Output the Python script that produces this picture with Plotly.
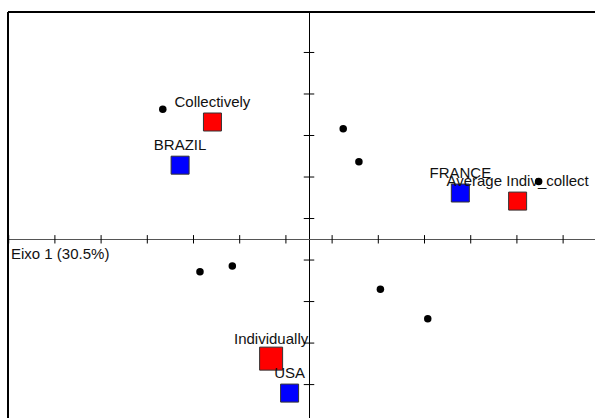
import plotly.graph_objects as go

# Row categories (red) and column categories (blue)
row_labels = ["Collectively", "Average Indiv_collect", "Individually"]
row_x = [-0.418, 0.903, -0.164]
row_y = [0.565, 0.184, -0.575]
row_size = [18, 18, 23]

col_labels = ["BRAZIL", "FRANCE", "USA"]
col_x = [-0.558, 0.655, -0.084]
col_y = [0.357, 0.223, -0.741]
col_size = [18, 18, 18]

# Supplementary points (black dots)
dot_x = [-0.633, 0.148, 0.216, 0.994, -0.472, -0.332, 0.309, 0.514]
dot_y = [0.627, 0.532, 0.373, 0.278, -0.156, -0.129, -0.241, -0.383]

# Tick positions along the axes
x_ticks = [-1.3, -1.1, -0.9, -0.7, -0.5, -0.3, -0.1, 0.1, 0.3, 0.5, 0.7, 0.9, 1.1]
y_ticks = [0.9, 0.7, 0.5, 0.3, 0.1, -0.1, -0.3, -0.5, -0.7]

axis_label = "Eixo 1 (30.5%)"

x_range = [-1.303, 1.238]
y_range = [-0.861, 1.095]

FONT = "Liberation Sans, Arial, sans-serif"

fig = go.Figure()

fig.add_trace(go.Scatter(
    x=row_x, y=row_y, mode="markers",
    marker=dict(symbol="square", size=row_size, color="#ff0000", opacity=1,
                line=dict(color="#333333", width=1)),
    hoverinfo="skip", showlegend=False))

fig.add_trace(go.Scatter(
    x=col_x, y=col_y, mode="markers",
    marker=dict(symbol="square", size=col_size, color="#0000ff", opacity=1,
                line=dict(color="#333333", width=1)),
    hoverinfo="skip", showlegend=False))

# labels (invisible marker to set the offset)
fig.add_trace(go.Scatter(
    x=row_x + col_x, y=row_y + col_y, mode="markers+text",
    text=row_labels + col_labels, textposition="top center",
    textfont=dict(family=FONT, size=15, color="#111111"),
    marker=dict(size=16, color="rgba(0,0,0,0)"),
    hoverinfo="skip", showlegend=False, cliponaxis=False))

fig.add_trace(go.Scatter(
    x=dot_x, y=dot_y, mode="markers",
    marker=dict(symbol="circle", size=7.5, color="#000000", opacity=1),
    hoverinfo="skip", showlegend=False))

# tick marks crossing the axes
fig.add_trace(go.Scatter(
    x=x_ticks, y=[0] * len(x_ticks), mode="markers",
    marker=dict(symbol="line-ns", size=6, line=dict(color="#000000", width=1)),
    hoverinfo="skip", showlegend=False))
fig.add_trace(go.Scatter(
    x=[0] * len(y_ticks), y=y_ticks, mode="markers",
    marker=dict(symbol="line-ew", size=7.5, line=dict(color="#000000", width=1)),
    hoverinfo="skip", showlegend=False))

fig.add_annotation(x=x_range[0], y=0, xref="x", yref="y", text=axis_label,
                   showarrow=False, xanchor="left", yanchor="middle",
                   xshift=1, yshift=-14,
                   font=dict(family=FONT, size=15, color="#111111"))

# frame (left and top edges visible)
fig.add_shape(type="line", xref="paper", yref="paper", x0=0, x1=0, y0=0, y1=1,
              line=dict(color="#000000", width=2))
fig.add_shape(type="line", xref="paper", yref="paper", x0=0, x1=1, y0=1, y1=1,
              line=dict(color="#000000", width=2))

fig.update_xaxes(range=x_range, showgrid=False, showticklabels=False, ticks="",
                 zeroline=True, zerolinecolor="#000000", zerolinewidth=1,
                 showline=False)
fig.update_yaxes(range=y_range, showgrid=False, showticklabels=False, ticks="",
                 zeroline=True, zerolinecolor="#555555", zerolinewidth=1,
                 showline=False)

fig.update_layout(
    width=595, height=418,
    margin=dict(l=8, r=0, t=12, b=0),
    paper_bgcolor="white", plot_bgcolor="white",
    showlegend=False,
)

fig.write_html(
    "out.html",
    config={"displayModeBar": False},
    post_script="document.body.style.margin='0';document.body.style.overflow='hidden';",
)
